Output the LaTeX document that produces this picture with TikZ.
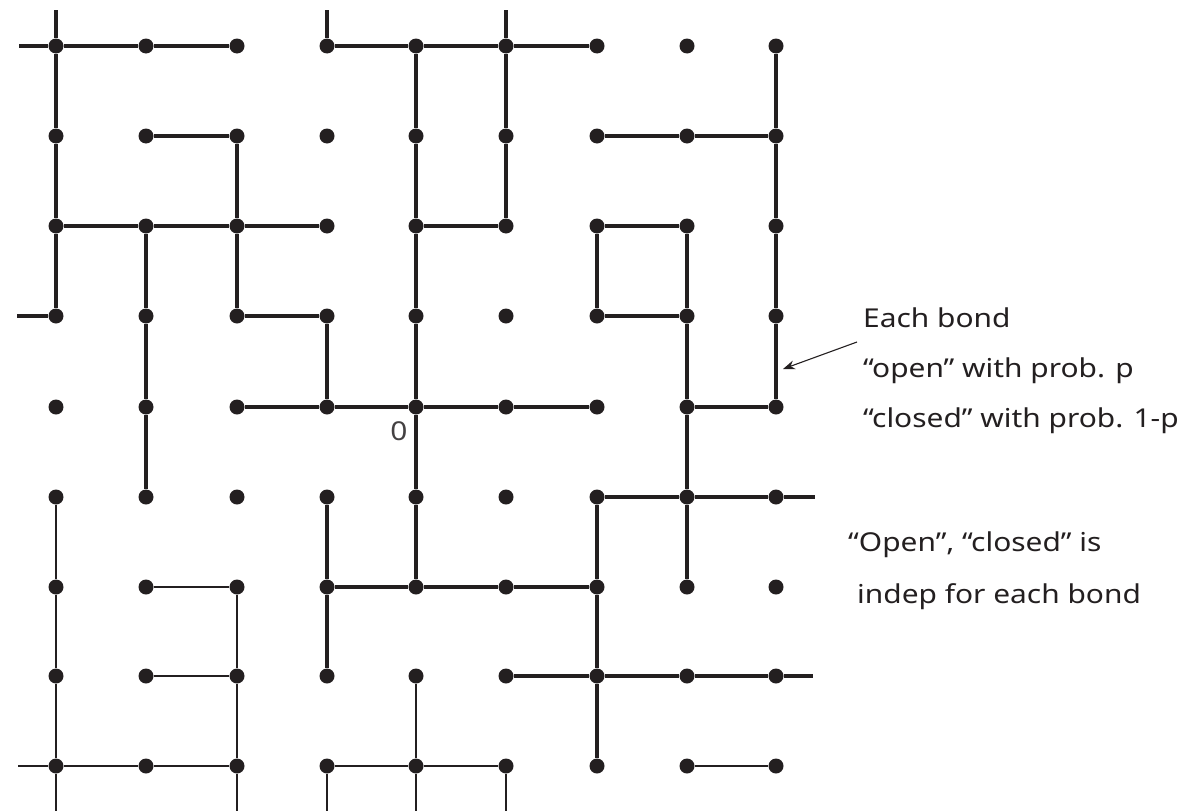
\documentclass[tikz,border=0pt]{standalone}
\usepackage{fontspec}
\setmainfont{Noto Sans}[FakeStretch=1.15]
\usetikzlibrary{arrows.meta}
\definecolor{ink}{HTML}{231F20}
\begin{document}
\begin{tikzpicture}[x=1pt,y=-1pt,
  dot/.style={circle,fill=ink,inner sep=0pt,minimum size=15pt},
  open/.style={draw=ink,line width=4.2pt},
  thinb/.style={draw=ink,line width=1.4pt},
  note/.style={anchor=base west,inner sep=0pt,text=ink,font=\fontsize{26}{31}\selectfont},
  pointer/.style={draw=ink,line width=1.1pt,-{Stealth[length=12pt,width=9pt,inset=4pt]}}]
\path[use as bounding box] (0,0) rectangle (1191,811);
% lattice sites
\foreach \x [count=\i from 0] in {56,146,237,327,416,506,597,687,776}{
  \foreach \y [count=\j from 0] in {46,136,226,316,407,497,587,676,766}{
    \node[dot] (d\i\j) at (\x,\y) {};
  }
}
% boundary stub ends
\coordinate (t0) at (56,10);
\coordinate (t3) at (327,10);
\coordinate (t5) at (506,10);
\coordinate (l0) at (19,46);
\coordinate (l3) at (17,316);
\coordinate (l8) at (18,766);
\coordinate (r5) at (815,497);
\coordinate (r7) at (813,676);
\coordinate (b0) at (56,811);
\coordinate (b2) at (237,811);
\coordinate (b3) at (327,811);
\coordinate (b4) at (416,811);
\coordinate (b5) at (506,811);
% open bonds (thick) - horizontal
\foreach \a/\b/\r in {0/1/0,1/2/0,3/4/0,4/5/0,5/6/0,
  1/2/1,6/7/1,7/8/1,
  0/1/2,1/2/2,2/3/2,4/5/2,6/7/2,
  2/3/3,6/7/3,
  2/3/4,3/4/4,4/5/4,5/6/4,7/8/4,
  6/7/5,7/8/5,
  3/4/6,4/5/6,5/6/6,
  5/6/7,6/7/7,7/8/7}{
  \draw[open] (d\a\r) -- (d\b\r);
}
% open bonds (thick) - vertical
\foreach \c/\r/\s in {0/0/1,4/0/1,5/0/1,8/0/1,
  0/1/2,2/1/2,4/1/2,5/1/2,8/1/2,
  0/2/3,1/2/3,2/2/3,4/2/3,6/2/3,7/2/3,8/2/3,
  1/3/4,3/3/4,4/3/4,7/3/4,8/3/4,
  1/4/5,4/4/5,7/4/5,
  3/5/6,4/5/6,6/5/6,7/5/6,
  3/6/7,6/6/7,
  6/7/8}{
  \draw[open] (d\c\r) -- (d\c\s);
}
% thick stubs
\draw[open] (t0) -- (d00);
\draw[open] (t3) -- (d30);
\draw[open] (t5) -- (d50);
\draw[open] (l0) -- (d00);
\draw[open] (l3) -- (d03);
\draw[open] (d85) -- (r5);
\draw[open] (d87) -- (r7);
% thin bonds
\foreach \a/\b/\r in {1/2/6,1/2/7,0/1/8,1/2/8,3/4/8,4/5/8,7/8/8}{
  \draw[thinb] (d\a\r) -- (d\b\r);
}
\foreach \c/\r/\s in {0/5/6,0/6/7,2/6/7,0/7/8,2/7/8,4/7/8}{
  \draw[thinb] (d\c\r) -- (d\c\s);
}
\draw[thinb] (l8) -- (d08);
\foreach \c in {0,2,3,4,5}{
  \draw[thinb] (d\c8) -- (b\c);
}
% origin label
\node[anchor=base,inner sep=0pt,text=ink!85,font=\fontsize{26}{31}\selectfont] (origin) at (399,440) {0};
% annotation
\node[note] (t1) at (863,327) {Each bond};
\node[note] (t2) at (863,377) {“open” with prob. p};
\node[note] (t3x) at (863,427) {“closed” with prob. 1-p};
\node[note] (t4) at (848,551) {“Open”, “closed” is};
\node[note] (t5x) at (857,603) {indep for each bond};
\coordinate (arrtail) at (857,342);
\coordinate (arrhead) at (783,369);
\draw[pointer] (arrtail) -- (arrhead);
\end{tikzpicture}
\end{document}
